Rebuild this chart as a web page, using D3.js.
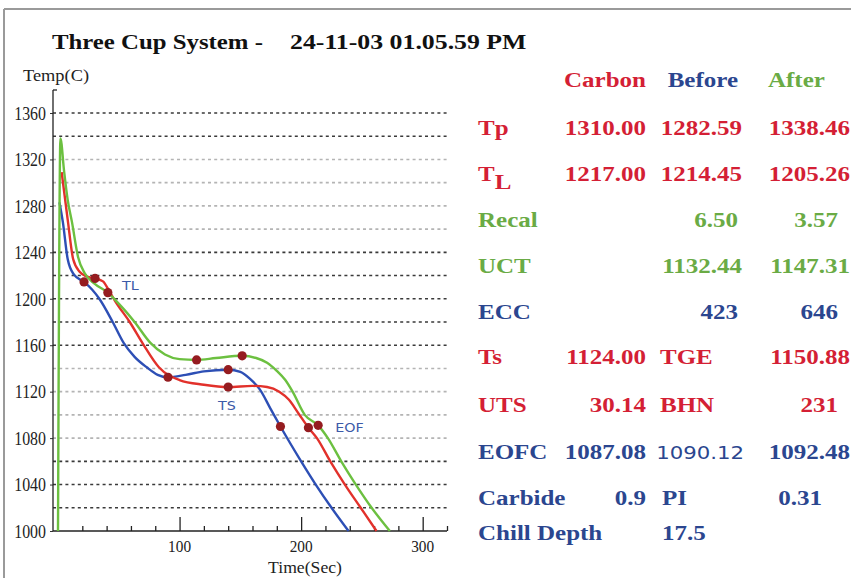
<!DOCTYPE html>
<html><head><meta charset="utf-8">
<script src="https://cdn.jsdelivr.net/npm/d3@7"></script>
<style>html,body{margin:0;padding:0;background:#fff;overflow:hidden}</style>
</head><body>
<svg id="c" width="851" height="578"></svg>
<script>
// ---------------- DATA ----------------
const titleLeft = "Three Cup System -";
const titleRight = "24-11-03 01.05.59 PM";
const yLabel = "Temp(C)";
const xLabel = "Time(Sec)";
const yTickLabels = [1000, 1040, 1080, 1120, 1160, 1200, 1240, 1280, 1320, 1360];
const gridValues = [1020, 1040, 1060, 1080, 1100, 1120, 1140, 1160, 1180, 1200, 1220, 1240, 1260, 1280, 1300, 1320, 1340, 1360];
const xMajorTicks = [100, 200, 300];
const xMinorTicks = [20, 40, 60, 80, 120, 140, 160, 180, 220, 240, 260, 280, 320];

// Before (blue)
const beforeSeries = [[1.2,1283],[4,1266],[8,1234],[13,1221],[21.4,1214.5],[28,1208],[34,1200],[45,1180],[54,1162],[63,1150],[73,1141],[82,1134.5],[90.5,1132.4],[105,1134.5],[120,1137.5],[140,1138.9],[150,1137],[158,1131],[166,1122],[175,1105],[183,1090],[200,1060],[212,1040],[225,1020],[239,1000]];
// Carbon (red)
const carbonSeries = [[3,1309],[8,1268],[12.5,1234],[18,1223],[24,1219],[30.5,1217.5],[37,1215],[42,1207],[47,1198],[59,1180],[70,1161],[83,1141],[100,1130],[120,1126],[140,1124],[160,1125],[172,1124],[182,1120],[190,1113],[198,1101],[206,1089],[213,1080],[224,1060],[236,1040],[249,1020],[262,1000]];
// After (green)
const afterSeries = [[0,1000],[2,1338],[5,1310],[8,1285],[11.5,1266],[16.5,1236],[22,1222],[30,1213],[41,1205.3],[48,1198],[55,1190],[63,1180],[76,1162],[88,1152],[100,1148],[114,1147.3],[130,1149],[151.5,1150.9],[163,1149],[172,1145],[180,1138],[187,1130],[193,1120],[203,1100],[214,1091],[222,1080],[233,1060],[245,1040],[258,1020],[273,1000]];

const markerPoints = [[21.4,1214.5],[30.5,1217.5],[41,1205.3],[90.5,1132.4],[114,1147.3],[140,1138.9],[151.5,1150.9],[140,1124],[183,1090],[206,1089],[214,1091]];
const annoTexts = ["TL", "TS", "EOF"];
const annoPos = [[52.7,1212],[131.7,1108.5],[228,1090]];

// table
const tableHeader = ["Carbon", "Before", "After"];
const rowLabels = ["Tp", "T", "Recal", "UCT", "ECC", "Ts", "UTS", "EOFC", "Carbide", "Chill Depth"];
const rowLabelSub = ["", "L", "", "", "", "", "", "", "", ""];
const carbonVals = ["1310.00", "1217.00", "", "", "", "1124.00", "30.14", "1087.08", "0.9", ""];
const beforeVals = ["1282.59", "1214.45", "6.50", "1132.44", "423", "TGE", "BHN", "1090.12", "PI", "17.5"];
const afterVals  = ["1338.46", "1205.26", "3.57", "1147.31", "646", "1150.88", "231", "1092.48", "0.31", ""];

// ---------------- STYLE / LAYOUT ----------------
const RED = "#d41f35", BLUE = "#2b468f", GREEN = "#6aab45";
const rowColors = [RED, RED, GREEN, GREEN, BLUE, RED, RED, BLUE, BLUE, BLUE];
const headColors = [RED, BLUE, GREEN];
const rowBase = [135, 181, 227, 273, 319, 364, 412, 459, 505, 540];
const col1Right = 646;
const col2X = [742,742,738,742,738,660,660,744,662,662];
const col2Anchor = ["end","end","end","end","end","start","start","end","start","start"];
const col3X = [850,850,838,850,838,850,838,850,822,850];
const lightGrid = new Set([1080,1100,1120,1140,1260,1280,1300,1320]);

const svg = d3.select("#c");
svg.append("rect").attr("width",851).attr("height",578).attr("fill","#fff");
// frame
svg.append("line").attr("x1",4).attr("x2",851).attr("y1",9).attr("y2",9).attr("stroke","#9a9a9a").attr("stroke-width",2);
svg.append("line").attr("x1",4).attr("x2",4).attr("y1",9).attr("y2",578).attr("stroke","#9a9a9a").attr("stroke-width",2);

function txt(x, y, s, o) {
  o = o || {};
  const t = svg.append("text")
    .attr("transform", `translate(${x},${y}) scale(${o.sx||1},1)`)
    .attr("text-anchor", o.anchor || "start")
    .attr("font-family", o.family || "'Liberation Serif', 'Times New Roman', serif")
    .attr("font-size", o.size || 17)
    .attr("font-weight", o.weight || "normal")
    .attr("fill", o.fill || "#111")
    .text(s);
  return t;
}

// title
txt(52, 49, titleLeft, {size:20, weight:"bold", sx:1.24});
txt(290, 49, titleRight, {size:20, weight:"bold", sx:1.29});

// scales
const x = d3.scaleLinear().domain([0, 320]).range([58, 447]);
const y = d3.scaleLinear().domain([1000, 1360]).range([531, 113]);

// grid
svg.append("g").selectAll("line").data(gridValues).join("line")
  .attr("x1", 53).attr("x2", 448)
  .attr("y1", d => y(d)).attr("y2", d => y(d))
  .attr("stroke", d => lightGrid.has(d) ? "#b4b4b4" : "#3a3a3a")
  .attr("stroke-width", 1.6)
  .attr("stroke-dasharray", "3,3.2");

// y axis
const yAxis = d3.axisLeft(y).tickValues(yTickLabels).tickSize(3).tickFormat(d3.format("d"));
const gy = svg.append("g").attr("transform", "translate(53,0)").call(yAxis);
gy.select(".domain").remove();
gy.selectAll(".tick line").attr("stroke", "#333");
gy.selectAll(".tick text")
  .attr("font-family", "'Liberation Serif', serif").attr("font-size", 18.5).attr("fill", "#222")
  .attr("dy", "0.34em")
  .attr("transform", "scale(0.86,1)")
  .attr("x", -7/0.86);
svg.append("line").attr("x1",53).attr("x2",53).attr("y1",90).attr("y2",531).attr("stroke","#222").attr("stroke-width",1.3);
svg.append("line").attr("x1",53).attr("x2",57).attr("y1",90).attr("y2",90).attr("stroke","#222").attr("stroke-width",1.3);

// x axis
const gxMaj = svg.append("g").attr("transform", "translate(0,531)")
  .call(d3.axisTop(x).tickValues(xMajorTicks).tickSize(14).tickFormat(""));
gxMaj.select(".domain").remove();
gxMaj.selectAll(".tick line").attr("stroke","#222").attr("stroke-width",1.3);
const gxMin = svg.append("g").attr("transform", "translate(0,531)")
  .call(d3.axisTop(x).tickValues(xMinorTicks).tickSize(5).tickFormat(""));
gxMin.select(".domain").remove();
gxMin.selectAll(".tick line").attr("stroke","#222").attr("stroke-width",1.3);
svg.append("line").attr("x1",53).attr("x2",447).attr("y1",531).attr("y2",531).attr("stroke","#222").attr("stroke-width",1.3);
xMajorTicks.forEach(v => txt(x(v), 552, String(v), {anchor:"middle", size:17, sx:0.9, fill:"#222"}));
txt(305, 573, xLabel, {anchor:"middle", size:16.5, sx:1.07, fill:"#222"});
txt(23, 81, yLabel, {size:17, sx:1.08, fill:"#222"});

// curves
const line = d3.line().x(d => x(d[0])).y(d => y(d[1])).curve(d3.curveMonotoneX);
const curves = [[beforeSeries, "#2d4fb5"], [carbonSeries, "#e2312b"], [afterSeries, "#6cc040"]];
curves.forEach(([s, c]) => {
  svg.append("path").datum(s).attr("d", line).attr("fill","none").attr("stroke", c).attr("stroke-width", 2.4);
});

// markers
svg.append("g").selectAll("circle").data(markerPoints).join("circle")
  .attr("cx", d => x(d[0])).attr("cy", d => y(d[1])).attr("r", 4.6).attr("fill", "#951c20");

// annotations
annoTexts.forEach((t, i) => {
  txt(x(annoPos[i][0]), y(annoPos[i][1]) + 5, t, {size:13, family:"'DejaVu Sans', sans-serif", sx:1.1, fill:"#3c5aa8"});
});

// table
const TB = {size:20, weight:"bold", sx:1.25};
const headX = [col1Right, 738, 768];
const headAnchor = ["end","end","start"];
tableHeader.forEach((h,i) => txt(headX[i], 87, h, Object.assign({}, TB, {fill: headColors[i], anchor: headAnchor[i]})));
rowLabels.forEach((lab, i) => {
  const t = txt(478, rowBase[i], lab, Object.assign({}, TB, {fill: rowColors[i]}));
  if (rowLabelSub[i]) {
    t.append("tspan").attr("dy", 8).attr("font-size", 20).text(rowLabelSub[i]);
  }
  if (carbonVals[i]) txt(col1Right, rowBase[i], carbonVals[i], Object.assign({}, TB, {fill: rowColors[i], anchor:"end"}));
  if (beforeVals[i]) {
    const regular = (i === 7);
    txt(col2X[i], rowBase[i], beforeVals[i], regular
      ? {size:18, family:"'DejaVu Sans', sans-serif", sx:1.18, fill: rowColors[i], anchor: col2Anchor[i]}
      : Object.assign({}, TB, {fill: rowColors[i], anchor: col2Anchor[i]}));
  }
  if (afterVals[i]) txt(col3X[i], rowBase[i], afterVals[i], Object.assign({}, TB, {fill: rowColors[i], anchor:"end"}));
});
</script>
</body></html>
